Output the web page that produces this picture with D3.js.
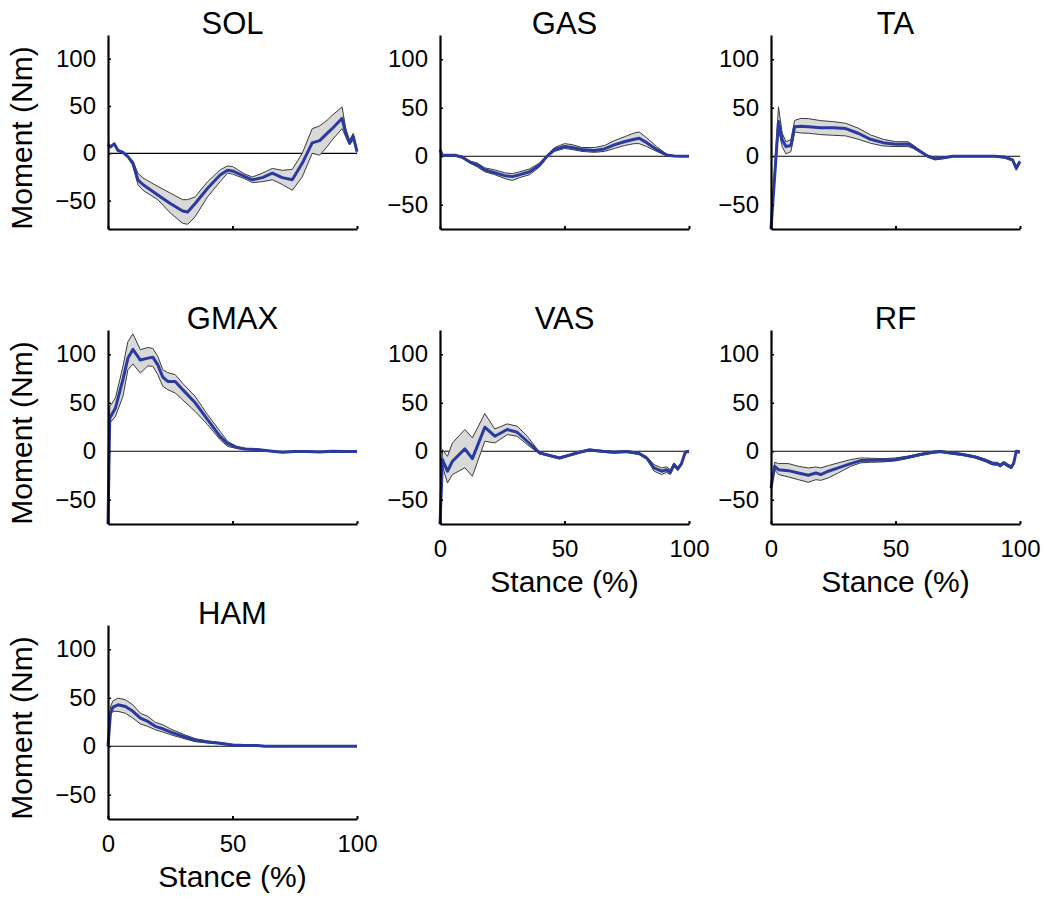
<!DOCTYPE html>
<html><head><meta charset="utf-8">
<script src="https://cdn.jsdelivr.net/npm/d3@7"></script>
<style>
body{margin:0;background:#fff}
svg{display:block}
text{font-family:"Liberation Sans",Arial,Helvetica,sans-serif;fill:#000}
</style>
</head><body>
<svg id="c" width="1050" height="905"></svg>
<script>
// ---------- data (stance %, moment Nm) ----------
const SOL_x     = [0,1,2.5,4,6,8,10,12,14,20,25,30,32,35,40,45,48,50,55,58,62,66,70,74,78,82,85,88,90,94,95.5,97,98.5,100];
const SOL_mean  = [9.5,6.7,10,3,1,-3.5,-10.5,-28,-33,-44,-53,-61,-62,-53,-37,-23,-18,-18.7,-24.6,-28,-25.7,-21,-25.7,-28,-10.6,11,13.4,21,26,37,21,10.6,18,1.8];
const SOL_upper = [10.5,7.7,11,4,2,-2.5,-8,-21,-26,-35,-42,-49,-49,-46,-30,-17.6,-13.4,-14,-22,-25,-21,-16,-18,-17,0,26,29,35,40,49,26,14,21,3];
const SOL_lower = [8.5,5.7,9,2,0,-4.5,-13,-33,-39,-49,-63,-74,-75,-67,-46,-30,-21,-22,-27,-31,-30,-28,-33,-39,-25,0,-2,7,14,26,17.6,9,14,0.7];

const GAS_x     = [0,1,3,6,9,12,15,18,22,26,29,32,36,40,43,46,50,53,57,62,66,70,74,78,80,83,87,91,94,97,100];
const GAS_mean  = [6.5,1,1,1,-1,-6,-9,-14,-17,-20,-21,-19,-16,-9,0,7,10,9,7,6,7.5,11.7,15,17.5,18.5,14,7,1.4,0.3,0,0];
const GAS_upper = [7,1.5,1.5,1.5,0,-5,-7,-12,-14,-17,-18,-16,-13,-7,1,9,13,12,9,9,11,16,20,24,25,19,10,2,0.5,0.3,0.3];
const GAS_lower = [6,0.5,0.5,0.5,-2,-7,-11,-16,-19,-23,-25,-22,-19,-11,-1,5,8,7,5,4,5,8,11,13,13,10,5,0.5,0,-0.3,-0.3];

const TA_x      = [0,3,4.5,6,8,9.5,12,15,20,25,30,35,40,45,50,55,57,60,63,66,70,73,80,90,94,97,98.5,100];
const TA_mean   = [-75,35.7,17,10,11,30.5,31,30.5,29.5,29.5,28.5,23.7,17.5,14,12.3,12.7,10,4.8,0,-2.7,-1.4,0,0,0,-1,-3.8,-12.3,-5.5];
const TA_upper  = [-75,51,23.7,15,17,37,39,38.8,36.7,35.7,34,29,22,17.5,15,15,11.7,5.8,1,-1.7,-0.6,0.5,0.5,0.5,0,-3,-10,-4.5];
const TA_lower  = [-75,27,10,2.4,4.8,25,24,23.7,22.3,21.6,21,17.5,13.4,10.6,10,10,8.2,3.8,-1,-3.7,-2.2,-0.5,-0.5,-0.5,-2,-4.8,-14.5,-6.5];

const GMAX_x     = [0,0.7,3,6,8,10,13,16,18,20,22,24,27,30,35,40,45,48,52,55,60,65,70,75,80,85,90,95,100];
const GMAX_mean  = [-75,34,44.6,73.8,96,105,94,96,97,89,76.5,72,72,63.5,50,32.6,15.4,7.9,3.8,2.4,1.7,0.3,-1,-0.3,-0.3,-0.7,0,-0.3,-0.3];
const GMAX_upper = [-75,46,55,87.5,113,121,104.6,107,106,97.8,84,81,79,70,56.6,37.7,20.6,10.3,4.5,3,2.3,0.8,-0.5,0.2,0.2,-0.2,0.5,0.2,0.2];
const GMAX_lower = [-75,29,36,56.6,84,90,80.6,88,87.5,79,67,63.5,60,53,41,27.4,12,5,2.7,1.8,1.1,-0.2,-1.5,-0.8,-0.8,-1.2,-0.5,-0.8,-0.8];

const VAS_x     = [0,1,3,5,10,13,18,22,27,31,35,40,45,48,52,56,60,65,70,75,80,83,86,89,91,92.5,94,95.5,97,98.5,100];
const VAS_mean  = [-75,-8.6,-20.6,-10.3,2.4,-7.6,24.8,15.5,22.4,19.6,10.3,-1.7,-5,-6.9,-4,-1,1.4,0,-1,-0.3,-2.4,-6.9,-17.2,-20.6,-19,-21.7,-13.8,-18.2,-12.7,-1,0];
const VAS_upper = [-75,1.7,-5.2,8.6,22.4,13.8,38.9,23,28.2,25.8,15.5,-1,-4,-5.9,-3,0,2.4,1,0,0.7,-1.4,-5.5,-13.8,-17.2,-16,-19,-12,-16.5,-11.5,0,1];
const VAS_lower = [-75,-15.5,-32.7,-24,-17,-25.8,10.3,8.6,17.2,15.5,6.9,-2.8,-6,-7.9,-5,-2,0.4,-1,-2,-1.3,-3.4,-8.3,-20.6,-24,-21.7,-24,-15.5,-20,-14,-2,-1];

const RF_x      = [0,1.5,3,7,11,15,18,20,23,27,32,36,40,45,50,55,60,65,68,72,77,82,86,89,91,92,93.5,95,96.5,97.5,98.5,100];
const RF_mean   = [-37.9,-15.5,-19,-20,-22.4,-24.8,-22.4,-24,-20.6,-17.2,-12.7,-9.6,-9.3,-9.3,-8.6,-6.2,-3.4,-1,-0.3,-1.7,-3.4,-5.9,-9.3,-12.7,-13,-14.8,-12,-14.5,-16.5,-12,0,-0.7];
const RF_upper  = [-37.9,-11.4,-12.7,-12.7,-15.5,-17.2,-16.2,-17.2,-14.8,-12,-8.6,-6.9,-7.2,-7.6,-6.9,-5,-2.4,0,0.7,-0.7,-2.4,-4.9,-8,-11.2,-11.5,-13.3,-10.5,-13,-15,-10.5,1,0.3];
const RF_lower  = [-37.9,-19,-24,-26.5,-29.3,-32,-29.3,-30,-27.5,-22.4,-15.5,-12,-11.4,-11,-10,-7.4,-4.4,-2,-1.3,-2.7,-4.4,-6.9,-10.6,-14.2,-14.5,-16.3,-13.5,-16,-18,-13.5,-1,-1.7];

const HAM_x     = [0,1,2,4,7,10,13,16,19,22,25,30,35,40,45,50,55,60,63,70,80,90,100];
const HAM_mean  = [0,34,40.3,42.7,41,36,29,25.6,20.5,18,14.7,10.3,6.2,4.4,3,1.4,0.7,0.7,0,0,0,0,0];
const HAM_upper = [0,41,46.8,49.6,47.9,42.7,34,30.8,24.6,22.2,18,12.6,7.9,5.5,3.8,2,1,1,0.3,0.3,0.3,0.3,0.3];
const HAM_lower = [0,32.5,36,36,34,29,23,20.5,17,14.7,12,8.2,4.8,3.4,2.4,0.7,0.4,0.4,-0.3,-0.3,-0.3,-0.3,-0.3];

const titles   = ["SOL","GAS","TA","GMAX","VAS","RF","HAM"];
const yTicks   = [-50,0,50,100];
const xTicks   = [0,50,100];
const yLimits  = [[-80,125],[-75,125],[-75,125],[-75,125],[-75,125],[-75,125],[-75,125]];
const xAxisLabel = "Stance (%)";
const yAxisLabel = "Moment (Nm)";

const series = [
  [SOL_x,SOL_mean,SOL_upper,SOL_lower],
  [GAS_x,GAS_mean,GAS_upper,GAS_lower],
  [TA_x,TA_mean,TA_upper,TA_lower],
  [GMAX_x,GMAX_mean,GMAX_upper,GMAX_lower],
  [VAS_x,VAS_mean,VAS_upper,VAS_lower],
  [RF_x,RF_mean,RF_upper,RF_lower],
  [HAM_x,HAM_mean,HAM_upper,HAM_lower]
];

// ---------- layout ----------
const colLeft = [108,440,771];
const rowTop  = [35,330,625];
const W = 249, H = 194;
const showXLabels = [false,false,false,false,true,true,true];
const showYLabel  = [true,false,false,true,false,false,true];

const svg = d3.select("#c");

titles.forEach((name,i)=>{
  const col = i%3, row = Math.floor(i/3);
  const g = svg.append("g").attr("transform",`translate(${colLeft[col]},${rowTop[row]})`);
  const x = d3.scaleLinear().domain([0,100]).range([0,W]);
  const y = d3.scaleLinear().domain(yLimits[i]).range([H,0]);
  const [xs,mean,up,lo] = series[i];
  const pts = xs.map((v,k)=>({x:v,m:mean[k],u:up[k],l:lo[k]}));

  // zero line
  g.append("line").attr("x1",x(0)).attr("x2",x(100)).attr("y1",y(0)).attr("y2",y(0))
    .attr("stroke","#000").attr("stroke-width",1.2);

  // band
  g.append("path").datum(pts)
    .attr("d",d3.area().x(d=>x(d.x)).y0(d=>y(d.l)).y1(d=>y(d.u)))
    .attr("fill","#d9d9d9").attr("stroke","none");
  ["u","l"].forEach(k=>{
    g.append("path").datum(pts)
      .attr("d",d3.line().x(d=>x(d.x)).y(d=>y(d[k])))
      .attr("fill","none").attr("stroke","#3a3a3a").attr("stroke-width",1);
  });
  // mean
  g.append("path").datum(pts)
    .attr("d",d3.line().x(d=>x(d.x)).y(d=>y(d.m)))
    .attr("fill","none").attr("stroke","#2b3a9e").attr("stroke-width",3)
    .attr("stroke-linejoin","round");

  // y axis
  const ya = g.append("g").call(d3.axisLeft(y).tickValues(yTicks).tickSizeInner(-3).tickSizeOuter(0).tickPadding(12));
  ya.select(".domain").attr("stroke-width",2.2);
  ya.selectAll(".tick line").attr("stroke-width",1.5);
  ya.selectAll("text").attr("font-size",24).attr("x",-12).attr("font-family","'Liberation Sans',Arial,sans-serif");

  // x axis
  const xa = g.append("g").attr("transform",`translate(0,${H})`)
    .call(d3.axisBottom(x).tickValues(xTicks).tickSizeInner(-3).tickSizeOuter(0).tickPadding(16)
      .tickFormat(showXLabels[i] ? d3.format("d") : ()=>""));
  xa.select(".domain").attr("stroke-width",2.2);
  xa.selectAll(".tick line").attr("stroke-width",2);
  xa.selectAll("text").attr("font-size",24).attr("y",16).attr("font-family","'Liberation Sans',Arial,sans-serif");

  // title
  g.append("text").attr("x",W/2).attr("y",-1).attr("text-anchor","middle")
    .attr("font-size",31).text(name);

  if (showXLabels[i]) {
    g.append("text").attr("x",W/2).attr("y",H+68).attr("text-anchor","middle")
      .attr("font-size",30).text(xAxisLabel);
  }
  if (showYLabel[i]) {
    g.append("text").attr("transform",`translate(${32-colLeft[col]},${H/2+6}) rotate(-90)`)
      .attr("text-anchor","middle").attr("font-size",30).text(yAxisLabel);
  }
});
</script>
</body></html>
